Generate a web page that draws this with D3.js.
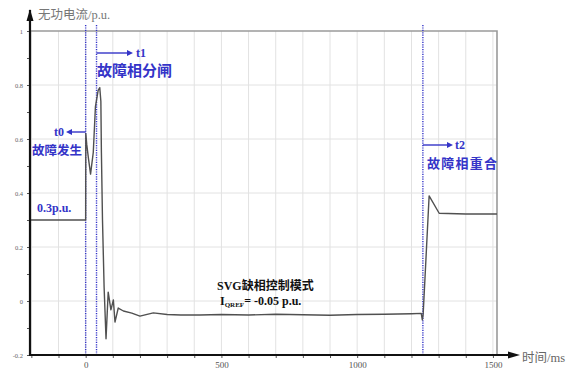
<!DOCTYPE html>
<html>
<head>
<meta charset="utf-8">
<script src="https://cdn.jsdelivr.net/npm/d3@7"></script>
<style>
  html, body { margin: 0; padding: 0; background: #fff; }
  svg { display: block; }
</style>
</head>
<body>
<svg id="chart" width="568" height="374"></svg>
<script>
// Reactive current of the SVG across a single-phase fault, phase trip and reclose
const timeMs = [-205, -2, 0, 0.5, 4, 10, 18, 28, 36, 46, 52, 56, 58, 62, 68, 75, 83, 93, 102, 108, 120, 139, 170, 200, 249, 300, 350, 421, 500, 600, 700, 800, 900, 1000, 1100, 1200, 1236, 1240, 1243, 1265, 1302, 1400, 1515];
const reactiveCurrent = [0.30, 0.30, 0.30, 0.62, 0.58, 0.53, 0.47, 0.55, 0.72, 0.78, 0.79, 0.74, 0.55, 0.30, 0.05, -0.14, 0.033, -0.033, 0.004, -0.078, -0.026, -0.037, -0.045, -0.056, -0.044, -0.050, -0.052, -0.052, -0.050, -0.052, -0.049, -0.051, -0.053, -0.050, -0.049, -0.047, -0.046, -0.070, -0.050, 0.389, 0.325, 0.322, 0.322];

const yTickValues = [-0.2, 0, 0.2, 0.4, 0.6, 0.8, 1];
const yTickLabels = ["-0.2", "0", "0.2", "0.4", "0.6", "0.8", "1"];
const xTickValues = [0, 500, 1000, 1500];
const xTickLabels = ["0", "500", "1000", "1500"];

// Event instants: fault (t0), faulted-phase trip (t1), reclose (t2)
const eventNames = ["t0", "t1", "t2"];
const eventTimes = [0, 40, 1242];
const eventCaptions = ["故障发生", "故障相分闸", "故障相重合"];

const svg = d3.select("#chart");
const blue = "#3434c8";
const serif = "'Liberation Serif', 'DejaVu Serif', 'Noto Sans CJK SC', serif";
const cjkBold = "'Liberation Serif', 'Noto Sans CJK SC', sans-serif";

const x = d3.scaleLinear().domain([-205, 1515]).range([30, 497]);
const y = d3.scaleLinear().domain([-0.2, 1]).range([355, 31]);

// grid
const grid = svg.append("g");
grid.selectAll("line.v").data(d3.range(-200, 1501, 100)).join("line")
  .attr("x1", d => x(d)).attr("x2", d => x(d))
  .attr("y1", y(1)).attr("y2", y(-0.2))
  .attr("stroke", "#e2e2e2").attr("stroke-width", 1);
grid.selectAll("line.h").data([-0.2, 0, 0.2, 0.4, 0.6, 0.8]).join("line")
  .attr("x1", x(-205)).attr("x2", x(1515))
  .attr("y1", d => y(d)).attr("y2", d => y(d))
  .attr("stroke", "#e2e2e2").attr("stroke-width", 1);

// top and right frame
svg.append("path")
  .attr("d", `M${x(-205)},${y(1)}H${x(1515)}V${y(-0.2)}`)
  .attr("fill", "none").attr("stroke", "#9a9a9a").attr("stroke-width", 1.6);

// event markers
svg.selectAll("line.evt").data(eventTimes).join("line")
  .attr("x1", d => x(d)).attr("x2", d => x(d))
  .attr("y1", 25).attr("y2", 356)
  .attr("stroke", blue).attr("stroke-width", 1.4)
  .attr("stroke-dasharray", "1.2,1.2");

// trace
const line = d3.line().x((d, i) => x(timeMs[i])).y(d => y(d));
svg.append("path").datum(reactiveCurrent)
  .attr("d", line)
  .attr("fill", "none").attr("stroke", "#505050").attr("stroke-width", 1.4)
  .attr("stroke-linejoin", "round");

// y axis
const yAxis = d3.axisLeft(y).tickValues(d3.range(-0.2, 1.001, 0.1).map(v => +v.toFixed(1)))
  .tickSize(3)
  .tickFormat(d => { const i = yTickValues.findIndex(v => Math.abs(v - d) < 1e-9); return i >= 0 ? yTickLabels[i] : ""; });
const gy = svg.append("g").attr("transform", `translate(${x(-205)},0)`).call(yAxis);
gy.select(".domain").remove();
gy.selectAll(".tick line").attr("stroke", "#555");
gy.selectAll(".tick text").attr("font-family", serif).attr("font-size", 6.5).attr("fill", "#666").attr("x", -7);

// x axis
const xAxis = d3.axisBottom(x).tickValues(d3.range(-200, 1501, 100)).tickSize(3)
  .tickFormat(d => { const i = xTickValues.indexOf(d); return i >= 0 ? xTickLabels[i] : ""; });
const gx = svg.append("g").attr("transform", `translate(0,${y(-0.2)})`).call(xAxis);
gx.select(".domain").remove();
gx.selectAll(".tick line").attr("stroke", "#555");
gx.selectAll(".tick text").attr("font-family", serif).attr("font-size", 9).attr("fill", "#555").attr("y", 7);

// axis lines with arrows
svg.append("line").attr("x1", x(-205)).attr("x2", x(-205)).attr("y1", y(-0.2) + 1).attr("y2", 10)
  .attr("stroke", "#111").attr("stroke-width", 2.2);
svg.append("path").attr("d", `M${x(-205) - 3.5},21L${x(-205)},9L${x(-205) + 3.5},21Z`).attr("fill", "#111");
svg.append("line").attr("x1", x(-205) - 1).attr("x2", 512).attr("y1", y(-0.2)).attr("y2", y(-0.2))
  .attr("stroke", "#111").attr("stroke-width", 2.2);
svg.append("path").attr("d", `M508,${y(-0.2) - 3.5}L520,${y(-0.2)}L508,${y(-0.2) + 3.5}Z`).attr("fill", "#111");

// axis titles
svg.append("text").attr("x", 38).attr("y", 19).text("无功电流/p.u.")
  .attr("font-family", serif).attr("font-size", 12.5).attr("fill", "#777");
svg.append("text").attr("x", 522).attr("y", 362).text("时间/ms")
  .attr("font-family", serif).attr("font-size", 12.5).attr("fill", "#666");

// event annotations
function arrow(x0, x1, yy) {
  const dir = Math.sign(x1 - x0);
  svg.append("line").attr("x1", x0).attr("x2", x1 - dir * 5).attr("y1", yy).attr("y2", yy)
    .attr("stroke", blue).attr("stroke-width", 1.4);
  svg.append("path").attr("d", `M${x1 - dir * 6},${yy - 3}L${x1},${yy}L${x1 - dir * 6},${yy + 3}Z`).attr("fill", blue);
}
const ann = svg.append("g").attr("fill", blue).attr("font-weight", "bold");

// t0
arrow(x(eventTimes[0]), 66, 132);
ann.append("text").attr("x", 54).attr("y", 136).text(eventNames[0]).attr("font-family", serif).attr("font-size", 12);
ann.append("text").attr("x", 32).attr("y", 155).text(eventCaptions[0]).attr("font-family", cjkBold).attr("font-size", 12.5);
// t1
arrow(x(eventTimes[1]), 133, 53);
ann.append("text").attr("x", 136).attr("y", 57).text(eventNames[1]).attr("font-family", serif).attr("font-size", 12);
ann.append("text").attr("x", 97).attr("y", 76).text(eventCaptions[1]).attr("font-family", cjkBold).attr("font-size", 15);
// t2
arrow(x(eventTimes[2]), 453, 145);
ann.append("text").attr("x", 455).attr("y", 149).text(eventNames[2]).attr("font-family", serif).attr("font-size", 12);
ann.append("text").attr("x", 427).attr("y", 168).text(eventCaptions[2]).attr("font-family", cjkBold).attr("font-size", 13)
  .attr("textLength", 70);

// pre-fault level
ann.append("text").attr("x", 37).attr("y", 212).text("0.3p.u.").attr("font-family", serif).attr("font-size", 12);

// control mode note
const note = svg.append("g").attr("fill", "#111").attr("font-weight", "bold").attr("font-family", cjkBold);
note.append("text").attr("x", 217).attr("y", 290).attr("font-size", 12).text("SVG缺相控制模式");
const iq = note.append("text").attr("x", 220).attr("y", 305).attr("font-size", 12).attr("font-family", serif);
iq.append("tspan").text("I");
iq.append("tspan").attr("font-size", 7).attr("dy", 2).text("QREF");
iq.append("tspan").attr("font-size", 12).attr("dy", -2).text("=  -0.05 p.u.");
</script>
</body>
</html>
